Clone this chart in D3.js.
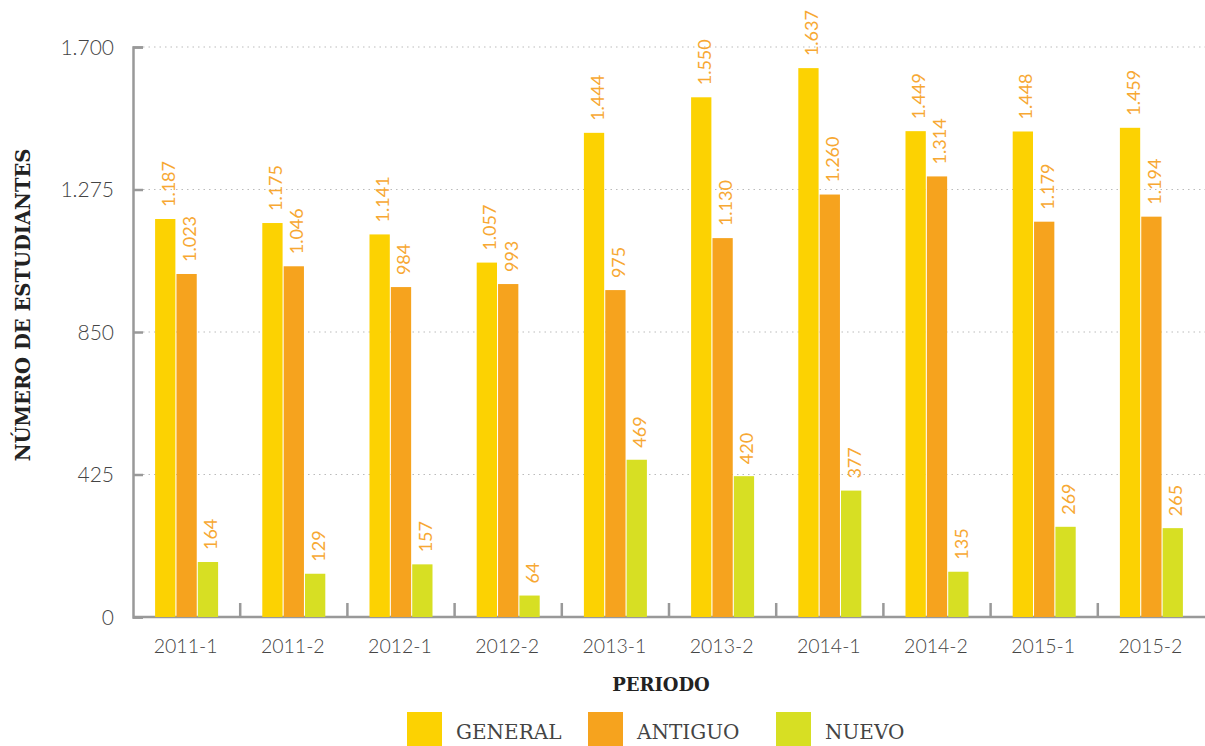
<!DOCTYPE html>
<html>
<head>
<meta charset="utf-8">
<script src="https://cdn.jsdelivr.net/npm/d3@7"></script>
<style>
  body { margin: 0; background: #fff; }
  svg { display: block; }
</style>
</head>
<body>
<div id="chart"></div>
<script>
const periods = ["2011-1", "2011-2", "2012-1", "2012-2", "2013-1", "2013-2", "2014-1", "2014-2", "2015-1", "2015-2"];
const general = [1187, 1175, 1141, 1057, 1444, 1550, 1637, 1449, 1448, 1459];
const antiguo = [1023, 1046, 984, 993, 975, 1130, 1260, 1314, 1179, 1194];
const nuevo = [164, 129, 157, 64, 469, 420, 377, 135, 269, 265];
const seriesNames = ["GENERAL", "ANTIGUO", "NUEVO"];
const yTicks = [0, 425, 850, 1275, 1700];

const width = 1205;
const height = 746;
const margin = { top: 47, right: 0, bottom: 129, left: 133 };

const colors = ["#fcd202", "#f6a31e", "#d7df23"];
const labelColor = "#f7a833";

const locale = d3.formatLocale({ decimal: ",", thousands: ".", grouping: [3], currency: ["", ""] });
const fmt = locale.format(",d");

const svg = d3.select("#chart")
  .append("svg")
  .attr("width", width)
  .attr("height", height);

const x = d3.scaleBand()
  .domain(periods)
  .range([margin.left, width - margin.right]);

const y = d3.scaleLinear()
  .domain([0, 1700])
  .range([height - margin.bottom, margin.top]);

const barW = 20;
const inner = d3.scaleBand()
  .domain(seriesNames)
  .range([0, barW * 3 + 3])
  .paddingInner(0.05);

// gridlines
svg.append("g")
  .selectAll("line")
  .data(yTicks.filter(d => d > 0))
  .enter().append("line")
  .attr("x1", margin.left + 10)
  .attr("x2", width)
  .attr("y1", d => y(d))
  .attr("y2", d => y(d))
  .attr("stroke", "#bbb")
  .attr("stroke-width", 1)
  .attr("stroke-dasharray", "1.5,4");

// y axis
const yAxis = svg.append("g")
  .attr("transform", `translate(${margin.left},0)`)
  .call(d3.axisRight(y).tickValues(yTicks).tickSize(10).tickFormat(""));
yAxis.select(".domain").attr("stroke", "#999").attr("stroke-width", 2.5);
yAxis.selectAll(".tick line").attr("stroke", "#999").attr("stroke-width", 2.5);

svg.append("g")
  .selectAll("text")
  .data(yTicks)
  .enter().append("text")
  .attr("x", 114)
  .attr("y", d => y(d))
  .attr("dy", "0.36em")
  .attr("text-anchor", "end")
  .attr("font-family", "Lato, sans-serif")
  .attr("font-weight", 300)
  .attr("font-size", 21)
  .attr("fill", "#444")
  .text(d => fmt(d));

// x axis
const base = y(0);
svg.append("line")
  .attr("x1", margin.left)
  .attr("x2", width)
  .attr("y1", base)
  .attr("y2", base)
  .attr("stroke", "#999")
  .attr("stroke-width", 2.5);

svg.append("g")
  .selectAll("line")
  .data(periods.slice(1))
  .enter().append("line")
  .attr("x1", d => x(d))
  .attr("x2", d => x(d))
  .attr("y1", base)
  .attr("y2", base - 14)
  .attr("stroke", "#999")
  .attr("stroke-width", 2.5);

svg.append("g")
  .selectAll("text")
  .data(periods)
  .enter().append("text")
  .attr("x", d => x(d) + x.bandwidth() / 2 - 1)
  .attr("y", 653)
  .attr("text-anchor", "middle")
  .attr("font-family", "Lato, sans-serif")
  .attr("font-weight", 300)
  .attr("font-size", 19.5)
  .attr("fill", "#444")
  .text(d => d);

// bars
const rows = periods.map((p, i) => ({ period: p, values: [general[i], antiguo[i], nuevo[i]] }));

const group = svg.append("g")
  .selectAll("g")
  .data(rows)
  .enter().append("g")
  .attr("transform", d => `translate(${x(d.period) + x.bandwidth() / 2 - inner.range()[1] / 2},0)`);

const cells = group.selectAll("g")
  .data(d => d.values.map((v, k) => ({ name: seriesNames[k], value: v, k: k })))
  .enter().append("g");

cells.append("rect")
  .attr("x", d => inner(d.name))
  .attr("y", d => y(d.value))
  .attr("width", inner.bandwidth())
  .attr("height", d => base - y(d.value))
  .attr("fill", d => colors[d.k]);

cells.append("text")
  .attr("transform", d => `translate(${inner(d.name) + inner.bandwidth() / 2 + 3},${y(d.value) - 12}) rotate(-90)`)
  .attr("dy", "0.36em")
  .attr("font-family", "Lato, sans-serif")
  .attr("font-size", 18)
  .attr("fill", labelColor)
  .text(d => fmt(d.value));

// axis titles
svg.append("text")
  .attr("transform", "translate(30,305) rotate(-90)")
  .attr("text-anchor", "middle")
  .attr("font-family", "'DejaVu Serif', serif")
  .attr("font-weight", "bold")
  .attr("font-size", 19.5)
  .attr("fill", "#222")
  .text("NÚMERO DE ESTUDIANTES");

svg.append("text")
  .attr("x", 661)
  .attr("y", 691)
  .attr("text-anchor", "middle")
  .attr("font-family", "'DejaVu Serif', serif")
  .attr("font-weight", "bold")
  .attr("font-size", 18)
  .attr("fill", "#222")
  .text("PERIODO");

// legend
const legendX = [407, 588, 776];
const legend = svg.append("g")
  .selectAll("g")
  .data(seriesNames)
  .enter().append("g")
  .attr("transform", (d, i) => `translate(${legendX[i]},712)`);

legend.append("rect")
  .attr("width", 35)
  .attr("height", 34)
  .attr("fill", (d, i) => colors[i]);

legend.append("text")
  .attr("x", 49)
  .attr("y", 27)
  .attr("font-family", "'DejaVu Serif', serif")
  .attr("font-size", 20)
  .attr("fill", "#444")
  .text(d => d);
</script>
</body>
</html>
